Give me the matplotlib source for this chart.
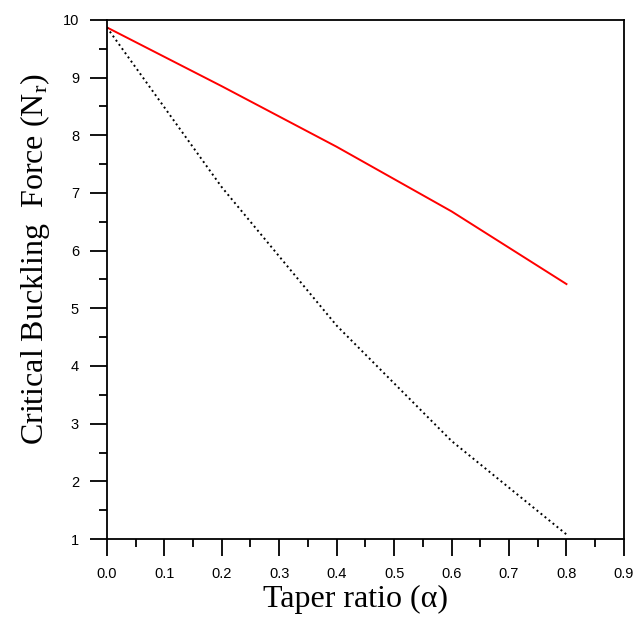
import numpy as np
import matplotlib
matplotlib.use("Agg")
import matplotlib.pyplot as plt
from matplotlib.ticker import MultipleLocator

# data
alpha = [0.0, 0.2, 0.4, 0.6, 0.8]
force_red = [9.87, 8.85, 7.80, 6.68, 5.42]
force_dot = [9.87, 7.10, 4.70, 2.70, 1.08]

plt.rcParams['mathtext.fontset'] = 'custom'
plt.rcParams['mathtext.rm'] = 'Liberation Serif'
plt.rcParams['mathtext.it'] = 'Liberation Serif:italic'

fig = plt.figure(figsize=(6.36, 6.21), dpi=100)
ax = fig.add_axes([0.168, 0.132, 0.813, 0.836])

ax.plot(alpha, force_red, "-", color="red", lw=1.4)
ax.plot(alpha, force_dot, ":", color="black", lw=1.4)

ax.set_xlim(0, 0.9)
ax.set_ylim(1, 10)
ax.xaxis.set_major_locator(MultipleLocator(0.1))
ax.xaxis.set_minor_locator(MultipleLocator(0.05))
ax.yaxis.set_major_locator(MultipleLocator(1))
ax.yaxis.set_minor_locator(MultipleLocator(0.5))
ax.set_xticks(np.arange(0, 0.91, 0.1))
ax.set_xticklabels(["%.1f" % v for v in np.arange(0, 0.91, 0.1)])

ax.tick_params(which="major", direction="out", length=12, width=1.3,
               labelsize=10.5, pad=8)
ax.tick_params(which="minor", direction="out", length=6, width=1.3)
for lab in ax.get_xticklabels() + ax.get_yticklabels():
    lab.set_family("Liberation Sans")
for s in ax.spines.values():
    s.set_linewidth(1.3)

ax.set_xlabel("Taper ratio (α)", family="Liberation Serif", fontsize=23, labelpad=3)
ax.set_ylabel(r"Critical Buckling  Force (N$_\mathregular{r}$)", family="Liberation Serif",
              fontsize=23, labelpad=8)
ax.xaxis.label.set_x(0.48)
ax.yaxis.label.set_y(0.54)

fig.savefig("out.png", dpi=100)
